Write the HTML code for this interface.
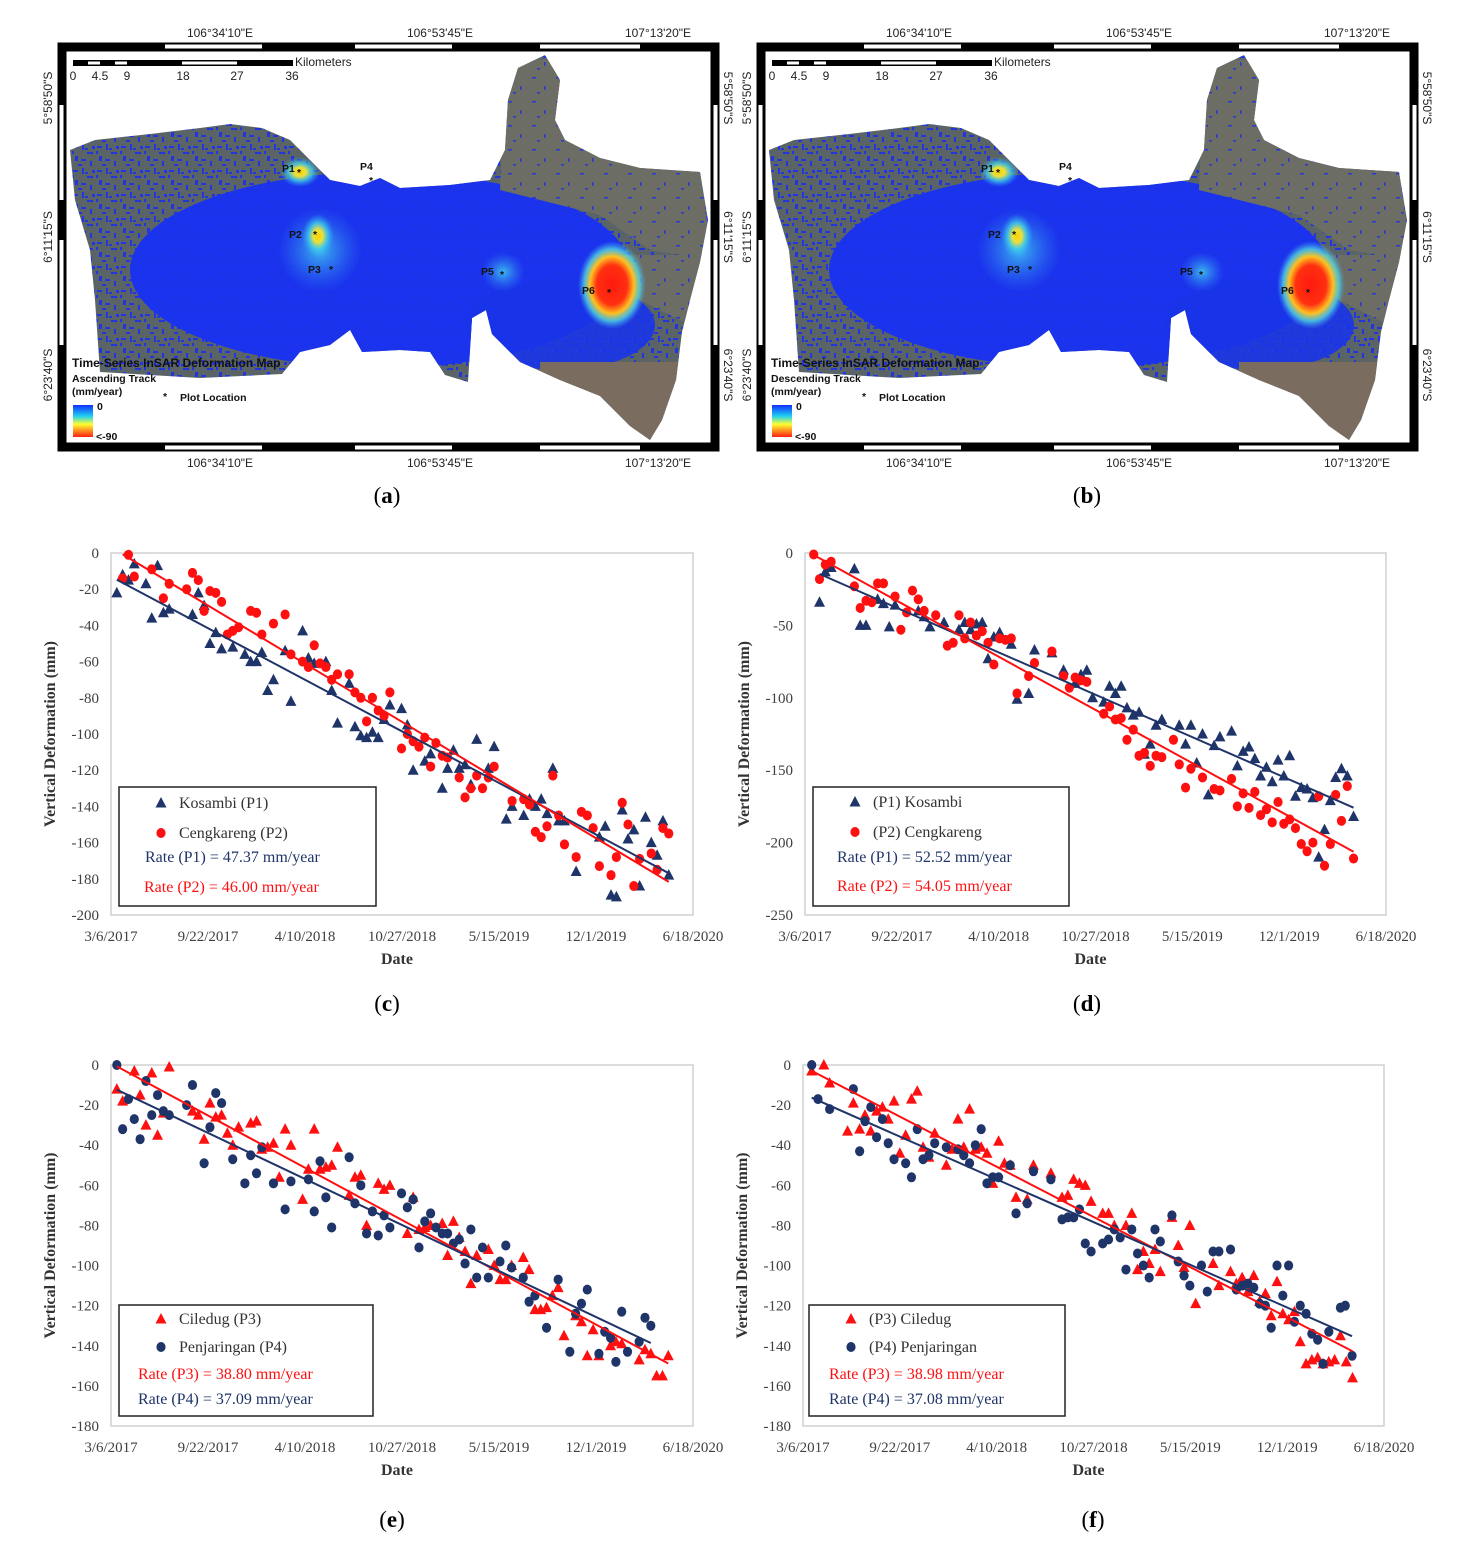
<!DOCTYPE html>
<html><head><meta charset="utf-8">
<style>
html,body{margin:0;padding:0;background:#fff;}
svg{display:block;}
.tk{font-family:"Liberation Serif",serif;font-size:15px;fill:#404040;}
.ttl{font-family:"Liberation Serif",serif;font-size:16px;font-weight:bold;fill:#333;}
.lg{font-family:"Liberation Serif",serif;font-size:16px;fill:#333;}
.pl{font-family:"Liberation Serif",serif;font-size:23px;fill:#000;}
.mp{font-family:"Liberation Sans",sans-serif;font-size:12px;fill:#222;}
.mpb{font-family:"Liberation Sans",sans-serif;font-size:12px;font-weight:bold;fill:#111;}
.mps{font-family:"Liberation Sans",sans-serif;font-size:10.5px;font-weight:bold;fill:#111;}
</style></head><body>
<svg id="fig" width="1468" height="1558" viewBox="0 0 1468 1558" xmlns="http://www.w3.org/2000/svg">
<defs>
<linearGradient id="cbar" x1="0" y1="0" x2="0" y2="1">
<stop offset="0" stop-color="#1030ff"/><stop offset="0.35" stop-color="#20d0f0"/><stop offset="0.6" stop-color="#ffff30"/><stop offset="1" stop-color="#ff2010"/></linearGradient>
<radialGradient id="hotR"><stop offset="0" stop-color="#ff1a10"/><stop offset="0.45" stop-color="#ff3010"/><stop offset="0.65" stop-color="#ffc020"/><stop offset="0.82" stop-color="#50d8e0" stop-opacity="0.8"/><stop offset="1" stop-color="#40a0f0" stop-opacity="0"/></radialGradient>
<radialGradient id="hotY"><stop offset="0" stop-color="#ffd000"/><stop offset="0.3" stop-color="#e8e040"/><stop offset="0.6" stop-color="#40d0e8" stop-opacity="0.8"/><stop offset="1" stop-color="#30a0f0" stop-opacity="0"/></radialGradient>
<radialGradient id="hotC"><stop offset="0" stop-color="#40c8f0" stop-opacity="0.9"/><stop offset="1" stop-color="#3080f0" stop-opacity="0"/></radialGradient>
<pattern id="spk" width="24" height="24" patternUnits="userSpaceOnUse">
<rect width="24" height="24" fill="#5a6466"/>
<rect x="1" y="2" width="5" height="2" fill="#2236e0"/><rect x="10" y="0" width="2" height="6" fill="#2236e0"/>
<rect x="15" y="8" width="6" height="2" fill="#2236e0"/><rect x="3" y="12" width="3" height="5" fill="#2236e0"/>
<rect x="9" y="15" width="5" height="2" fill="#2236e0"/><rect x="18" y="17" width="2" height="5" fill="#2236e0"/>
<rect x="6" y="20" width="4" height="2" fill="#2236e0"/><rect x="20" y="2" width="3" height="3" fill="#2236e0"/>
<rect x="13" y="4" width="3" height="2" fill="#2236e0"/><rect x="0" y="7" width="2" height="3" fill="#2236e0"/>
</pattern>
<pattern id="spk2" width="24" height="24" patternUnits="userSpaceOnUse">
<rect width="24" height="24" fill="#6c6e66"/>
<rect x="4" y="5" width="4" height="1.5" fill="#2a3ad0"/><rect x="16" y="14" width="1.5" height="4" fill="#2a3ad0"/>
<rect x="9" y="20" width="3" height="1.5" fill="#2a3ad0"/>
</pattern>
</defs>
</svg>
<script>
// ===== chart data (days since 3/6/2017, deformation mm) =====
const xTickLabels = ["3/6/2017","9/22/2017","4/10/2018","10/27/2018","5/15/2019","12/1/2019","6/18/2020"];
const xTickDays = [0,200,400,600,800,1000,1200];
const cYTicks = [0,-20,-40,-60,-80,-100,-120,-140,-160,-180,-200];
const dYTicks = [0,-50,-100,-150,-200,-250];
const efYTicks = [0,-20,-40,-60,-80,-100,-120,-140,-160,-180];

const cP1Days = [12,24,36,48,72,84,96,108,120,168,180,192,204,216,228,251,276,288,300,311,323,335,359,371,395,407,419,443,455,467,491,503,515,527,539,551,563,575,599,611,623,647,659,683,694,706,718,730,742,754,778,790,815,827,851,863,875,887,899,911,923,935,959,1007,1019,1031,1042,1054,1066,1078,1090,1102,1114,1126,1138,1150];
const cP1Vals = [-22,-12,-15,-6,-17,-36,-7,-33,-31,-34,-22,-29,-50,-44,-53,-52,-56,-60,-60,-55,-76,-70,-54,-82,-43,-58,-61,-60,-76,-94,-72,-96,-101,-102,-99,-102,-92,-84,-86,-95,-120,-115,-111,-130,-119,-109,-119,-117,-128,-103,-119,-107,-147,-140,-145,-136,-140,-136,-144,-119,-148,-148,-176,-157,-151,-189,-190,-142,-158,-153,-184,-146,-160,-167,-148,-178];
const cP2Days = [24,36,48,84,108,120,156,168,180,192,204,216,228,240,251,263,288,300,311,335,359,371,395,407,419,431,443,455,467,491,503,515,527,539,551,563,575,599,611,623,635,647,659,670,683,694,718,730,742,754,766,778,790,827,851,863,875,887,899,911,923,935,959,970,982,994,1007,1031,1042,1054,1066,1078,1090,1114,1126,1138,1150];
const cP2Vals = [-14,-1,-13,-9,-25,-17,-20,-11,-15,-32,-21,-22,-27,-45,-43,-41,-32,-33,-45,-39,-34,-56,-60,-63,-51,-61,-63,-70,-67,-67,-77,-80,-93,-80,-87,-90,-77,-108,-100,-104,-107,-102,-118,-105,-112,-113,-124,-135,-130,-123,-130,-124,-118,-137,-136,-139,-154,-157,-151,-123,-145,-161,-168,-143,-145,-152,-173,-178,-168,-138,-150,-184,-169,-166,-175,-152,-155];

const dP1Days = [30,42,54,102,114,126,150,162,174,186,234,246,258,287,318,330,342,354,366,378,390,402,426,438,462,474,510,534,558,570,582,594,617,629,641,653,665,678,690,701,713,725,737,773,786,797,809,821,833,845,857,881,893,905,917,929,941,953,965,977,989,1001,1013,1025,1037,1049,1061,1073,1085,1096,1108,1120,1133];
const dP1Vals = [-34,-13,-10,-11,-50,-50,-32,-35,-51,-36,-40,-44,-51,-48,-53,-48,-53,-49,-48,-73,-58,-55,-63,-101,-97,-67,-69,-81,-90,-84,-81,-100,-103,-92,-97,-92,-107,-112,-110,-139,-132,-119,-115,-119,-132,-119,-145,-125,-167,-133,-127,-123,-147,-137,-134,-142,-154,-148,-158,-143,-154,-140,-168,-162,-163,-169,-210,-191,-171,-155,-149,-154,-182];
const dP2Days = [18,30,42,54,102,114,126,138,150,162,186,198,210,222,234,246,270,294,306,318,330,342,354,366,378,390,402,414,426,438,462,474,510,534,546,558,570,582,617,629,641,653,665,678,690,701,713,725,737,761,773,786,797,821,845,857,881,893,905,917,929,941,953,965,977,989,1001,1013,1025,1037,1049,1061,1073,1085,1096,1108,1120,1133];
const dP2Vals = [-1,-18,-8,-6,-23,-38,-33,-34,-21,-21,-30,-53,-41,-26,-32,-40,-43,-64,-62,-43,-59,-48,-57,-54,-62,-77,-59,-60,-59,-97,-85,-76,-68,-85,-93,-86,-88,-89,-111,-106,-115,-114,-129,-122,-140,-138,-147,-140,-141,-129,-146,-162,-149,-155,-163,-164,-156,-175,-166,-176,-165,-181,-177,-186,-172,-187,-184,-190,-201,-206,-200,-168,-216,-201,-167,-185,-161,-211];

const eP3Days = [12,24,48,60,72,84,96,108,120,168,180,192,204,216,228,240,251,263,288,300,311,323,335,347,359,371,395,407,419,431,443,455,467,491,503,515,527,551,563,575,611,623,635,647,659,683,694,706,718,730,742,754,778,790,802,814,826,850,862,874,886,898,910,922,934,958,970,982,994,1006,1030,1041,1053,1089,1101,1113,1125,1137,1149];
const eP3Vals = [-12,-18,-3,-15,-30,-4,-35,-24,-1,-23,-25,-37,-19,-26,-25,-34,-40,-31,-29,-28,-42,-41,-39,-56,-32,-40,-67,-52,-32,-52,-51,-50,-41,-65,-56,-55,-80,-59,-62,-60,-84,-66,-82,-81,-80,-79,-95,-78,-86,-93,-109,-95,-92,-100,-107,-107,-100,-96,-102,-122,-122,-121,-115,-111,-135,-125,-128,-145,-132,-145,-140,-138,-139,-147,-142,-144,-155,-155,-145];
const eP4Days = [12,24,36,48,60,72,84,96,108,120,156,168,192,204,216,228,251,276,288,300,311,335,359,371,407,419,431,443,455,491,503,515,527,539,551,563,575,599,611,623,635,647,659,670,683,694,706,718,730,742,754,766,778,802,814,826,850,862,874,898,922,946,958,970,982,1006,1018,1030,1041,1053,1065,1089,1101,1113];
const eP4Vals = [0,-32,-17,-27,-37,-8,-25,-15,-23,-25,-20,-10,-49,-31,-14,-19,-47,-59,-45,-54,-41,-59,-72,-58,-57,-73,-48,-66,-81,-46,-69,-60,-84,-73,-85,-75,-81,-64,-71,-67,-91,-78,-74,-81,-84,-84,-89,-87,-99,-82,-106,-91,-106,-98,-90,-101,-106,-118,-115,-131,-107,-143,-124,-119,-112,-144,-133,-136,-148,-123,-143,-138,-126,-130];

const fP3Days = [18,43,55,92,104,117,128,140,152,164,176,188,200,212,224,236,248,260,272,296,308,320,332,344,356,368,380,392,404,416,428,440,463,476,512,535,547,559,571,583,595,619,631,643,667,679,691,703,715,727,738,762,775,787,799,811,847,859,883,895,907,919,931,943,955,967,979,991,1003,1015,1027,1039,1051,1063,1074,1086,1098,1110,1122,1135];
const fP3Vals = [-3,0,-9,-33,-19,-32,-25,-33,-23,-21,-27,-18,-44,-35,-17,-13,-41,-46,-34,-50,-42,-27,-41,-22,-42,-41,-44,-59,-38,-49,-50,-66,-67,-50,-54,-66,-65,-57,-59,-60,-68,-74,-74,-80,-80,-74,-102,-93,-99,-92,-103,-76,-90,-101,-80,-119,-99,-110,-103,-109,-106,-113,-105,-118,-114,-125,-108,-124,-127,-123,-138,-149,-147,-146,-149,-148,-147,-135,-148,-156];
const fP4Days = [18,31,55,104,117,128,140,152,164,176,188,212,224,236,248,260,272,296,320,332,344,356,368,380,392,404,428,440,463,476,512,535,547,559,571,583,595,619,631,643,655,667,679,691,703,715,727,738,762,775,787,799,823,835,847,859,883,895,907,919,931,943,955,967,979,991,1003,1015,1027,1039,1051,1063,1074,1086,1110,1120,1134];
const fP4Vals = [0,-17,-22,-12,-43,-28,-21,-36,-27,-39,-47,-49,-56,-32,-47,-45,-39,-41,-42,-45,-49,-40,-32,-59,-56,-56,-50,-74,-69,-53,-57,-77,-76,-76,-72,-89,-93,-89,-87,-82,-86,-102,-82,-94,-100,-106,-82,-88,-75,-98,-105,-110,-100,-113,-93,-93,-92,-112,-110,-109,-111,-119,-120,-131,-100,-115,-100,-128,-120,-124,-134,-137,-149,-133,-121,-120,-145];

const NAVY = "#1f3468", RED = "#ff1010";
const svg = document.getElementById('fig');
const NS = "http://www.w3.org/2000/svg";
function mk(tag, attrs, parent, text){
  const e = document.createElementNS(NS, tag);
  for (const k in attrs) e.setAttribute(k, attrs[k]);
  if (text !== undefined) e.textContent = text;
  (parent || svg).appendChild(e);
  return e;
}

// ===== maps =====
const land = [[70,150],[95,140],[150,134],[200,128],[230,124],[262,128],[290,140],[310,160],[330,180],[360,186],[380,178],[400,188],[450,185],[490,180],[505,150],[508,100],[518,68],[545,55],[560,80],[555,120],[565,140],[600,158],[640,168],[700,172],[708,220],[700,262],[690,300],[682,332],[676,380],[662,420],[650,440],[630,426],[600,396],[560,380],[520,362],[492,334],[486,310],[472,318],[468,382],[445,375],[430,352],[400,350],[362,352],[350,330],[330,345],[300,352],[282,374],[200,378],[100,372],[95,300],[90,250],[75,200]];
function drawMap(ox, track, label){
  const g = mk('g', {});
  
  
  const cid = 'clip' + label;
  const cp = mk('clipPath', {id: cid}, g);
  const pts = land.map(p => (p[0] + ox) + ',' + p[1]).join(' ');
  mk('polygon', {points: pts}, cp);
  mk('polygon', {points: pts, fill: 'url(#spk)'}, g);
  const inner = mk('g', {'clip-path': 'url(#' + cid + ')'}, g);
  mk('ellipse', {cx: 380 + ox, cy: 270, rx: 250, ry: 98, fill: '#1832f2', opacity: 0.95}, inner);
  mk('ellipse', {cx: 560 + ox, cy: 325, rx: 95, ry: 45, fill: '#1a34e8', opacity: 0.9}, inner);
  mk('polygon', {points: [[505,60],[560,60],[600,158],[700,170],[712,260],[650,250],[600,215],[540,200],[500,190]].map(p=>(p[0]+ox)+','+p[1]).join(' '), fill: 'url(#spk2)'}, inner);
  mk('polygon', {points: [[600,255],[712,255],[700,330],[640,300]].map(p=>(p[0]+ox)+','+p[1]).join(' '), fill: 'url(#spk2)'}, inner);
  mk('rect', {x: 540 + ox, y: 362, width: 140, height: 90, fill: '#7a6d5f'}, inner);
  mk('ellipse', {cx: 320 + ox, cy: 250, rx: 42, ry: 42, fill: 'url(#hotC)'}, inner);
  mk('ellipse', {cx: 503 + ox, cy: 272, rx: 22, ry: 20, fill: 'url(#hotC)'}, inner);
  mk('ellipse', {cx: 318 + ox, cy: 236, rx: 16, ry: 22, fill: 'url(#hotY)'}, inner);
  mk('ellipse', {cx: 300 + ox, cy: 172, rx: 20, ry: 15, fill: 'url(#hotY)'}, inner);
  mk('ellipse', {cx: 612 + ox, cy: 285, rx: 34, ry: 44, fill: 'url(#hotR)'}, inner);
  const pl = [['P1',282,172,300,172],['P4',360,170,372,180],['P2',289,238,316,234],['P3',308,273,332,269],['P5',481,275,503,274],['P6',582,294,610,292]];
  pl.forEach(p => {
    mk('text', {x: p[1] + ox, y: p[2], class: 'mps'}, g, p[0]);
    mk('text', {x: p[3] + ox - 3, y: p[4] + 4, class: 'mps'}, g, '*');
  });
  // frame
  const fr = mk('g', {});
  
  
  mk('rect', {x: 62 + ox, y: 47, width: 653, height: 400, fill: 'none', stroke: '#000', 'stroke-width': 9}, fr);
  [[165,262],[355,452],[540,640]].forEach(s => mk('rect', {x: s[0] + ox, y: 44.5, width: s[1]-s[0], height: 4, fill: '#fff'}, fr));
  [[165,262],[355,452],[540,640]].forEach(s => mk('rect', {x: s[0] + ox, y: 445.5, width: s[1]-s[0], height: 4, fill: '#fff'}, fr));
  [[105,200],[240,345]].forEach(s => { mk('rect', {x: 59.5 + ox, y: s[0], width: 4, height: s[1]-s[0], fill: '#fff'}, fr); mk('rect', {x: 713.5 + ox, y: s[0], width: 4, height: s[1]-s[0], fill: '#fff'}, fr); });
  // coordinate labels
  [['106°34\'10"E',220],['106°53\'45"E',440],['107°13\'20"E',658]].forEach(c => {
    mk('text', {x: c[1] + ox, y: 37, class: 'mp', 'text-anchor': 'middle'}, fr, c[0]);
    mk('text', {x: c[1] + ox, y: 467, class: 'mp', 'text-anchor': 'middle'}, fr, c[0]);
  });
  [['5°58\'50"S',98],['6°11\'15"S',237],['6°23\'40"S',375]].forEach(c => {
    mk('text', {x: 0, y: 0, class: 'mp', 'text-anchor': 'middle', transform: 'translate(' + (52 + ox) + ',' + c[1] + ') rotate(-90)'}, fr, c[0]);
    mk('text', {x: 0, y: 0, class: 'mp', 'text-anchor': 'middle', transform: 'translate(' + (724 + ox) + ',' + c[1] + ') rotate(90)'}, fr, c[0]);
  });
  // scale bar
  const sb = mk('g', {});
  
  
  mk('rect', {x: 73 + ox, y: 60, width: 220, height: 6, fill: '#000'}, sb);
  [[88,100],[115,127],[182,237]].forEach(s => mk('rect', {x: s[0] + ox, y: 61.5, width: s[1]-s[0], height: 3, fill: '#fff'}, sb));
  mk('text', {x: 295 + ox, y: 66, class: 'mp', 'font-size': '11'}, sb, 'Kilometers');
  [['0',73],['4.5',100],['9',127],['18',183],['27',237],['36',292]].forEach(s => mk('text', {x: s[1] + ox, y: 80, class: 'mp', 'font-size': '11', 'text-anchor': 'middle'}, sb, s[0]));
  // legend
  const lg = mk('g', {});
  
  
  mk('text', {x: 72 + ox, y: 367, class: 'mpb'}, lg, 'Time-Series InSAR Deformation Map');
  mk('text', {x: 72 + ox, y: 382, class: 'mps'}, lg, track);
  mk('text', {x: 72 + ox, y: 395, class: 'mps'}, lg, '(mm/year)');
  mk('rect', {x: 73 + ox, y: 405, width: 20, height: 32, fill: 'url(#cbar)'}, lg);
  mk('text', {x: 97 + ox, y: 410, class: 'mps'}, lg, '0');
  mk('text', {x: 96 + ox, y: 440, class: 'mps'}, lg, '<-90');
  mk('text', {x: 163 + ox, y: 400, class: 'mps'}, lg, '*');
  mk('text', {x: 180 + ox, y: 401, class: 'mps'}, lg, 'Plot Location');
}
drawMap(0, 'Ascending Track', 'ascending');
drawMap(699, 'Descending Track', 'descending');

// ===== scatter charts =====
function fit(xs, ys){
  const n = xs.length; let sx=0,sy=0,sxx=0,sxy=0;
  for (let i=0;i<n;i++){sx+=xs[i];sy+=ys[i];sxx+=xs[i]*xs[i];sxy+=xs[i]*ys[i];}
  const b=(n*sxy-sx*sy)/(n*sxx-sx*sx); const a=(sy-b*sx)/n; return [a,b];
}
function chart(cfg){
  const {L,R,T,B,ymin,yticks,name,series,legend} = cfg;
  const g = mk('g', {});
  
  
  const X = d => L + (d - xTickDays[0]) / (xTickDays[xTickDays.length-1] - xTickDays[0]) * (R - L);
  const Y = v => T + (0 - v) / (0 - ymin) * (B - T);
  mk('rect', {x: L, y: T, width: R-L, height: B-T, fill: '#fff', stroke: '#d0d0d0', 'stroke-width': 1.5}, g);
  yticks.forEach(v => {
    const t = mk('text', {x: L - 12, y: Y(v) + 5, class: 'tk', 'text-anchor': 'end'}, g, String(v));
    
    
  });
  xTickDays.forEach((d,i) => {
    const t = mk('text', {x: X(d), y: B + 26, class: 'tk', 'text-anchor': 'middle'}, g, xTickLabels[i]);
    
    
  });
  const xt = mk('text', {x: (L+R)/2 - 5, y: B + 49, class: 'ttl', 'text-anchor': 'middle'}, g, 'Date');
  
  
  const yt = mk('text', {x: 0, y: 0, class: 'ttl', 'text-anchor': 'middle', transform: 'translate(' + (L - 56) + ',' + ((T+B)/2) + ') rotate(-90)'}, g, 'Vertical Deformation (mm)');
  
  
  series.forEach(s => {
    const sg = mk('g', {}, g);
    
    
    s.days.forEach((d,i) => {
      const x = X(d), y = Y(s.vals[i]);
      let m;
      if (s.shape === 'tri') m = mk('polygon', {points: (x) + ',' + (y-6) + ' ' + (x-5.5) + ',' + (y+4.5) + ' ' + (x+5.5) + ',' + (y+4.5), fill: s.color}, sg);
      else m = mk('ellipse', {cx: x, cy: y, rx: 4.6, ry: 5, fill: s.color}, sg);
      
      
    });
  });
  series.forEach(s => {
    const [a,b] = fit(s.days, s.vals);
    const d0 = Math.min(...s.days), d1 = Math.max(...s.days);
    const ln = mk('line', {x1: X(d0), y1: Y(a+b*d0), x2: X(d1), y2: Y(a+b*d1), stroke: s.color, 'stroke-width': 2}, g);
    
    
  });
  const lb = mk('g', {}, g);
  
  
  const [lx, ly, lw, lh] = legend.box;
  mk('rect', {x: lx, y: ly, width: lw, height: lh, fill: '#fff', stroke: '#222', 'stroke-width': 1.5}, lb);
  legend.rows.forEach(r => {
    if (r.shape === 'tri') mk('polygon', {points: (lx+42) + ',' + (r.y-11) + ' ' + (lx+36.5) + ',' + (r.y-0.5) + ' ' + (lx+47.5) + ',' + (r.y-0.5), fill: r.color}, lb);
    else if (r.shape === 'dot') mk('ellipse', {cx: lx+42, cy: r.y-5, rx: 4.6, ry: 5, fill: r.color}, lb);
    const t = mk('text', {x: r.shape ? lx + 60 : lx + r.x, y: r.y, class: 'lg', style: r.shape ? '' : 'fill:' + r.color}, lb, r.text);
    
    
  });
}
chart({L:111,R:693,T:553,B:915,ymin:-200,yticks:cYTicks,name:'chart-c',
  series:[{id:'kosambi-p1',days:cP1Days,vals:cP1Vals,color:NAVY,shape:'tri'},{id:'cengkareng-p2',days:cP2Days,vals:cP2Vals,color:RED,shape:'dot'}],
  legend:{box:[119,787,257,119],rows:[{shape:'tri',color:NAVY,y:808,text:'Kosambi (P1)'},{shape:'dot',color:RED,y:838,text:'Cengkareng (P2)'},{x:26,color:NAVY,y:862,text:'Rate (P1) = 47.37 mm/year'},{x:25,color:RED,y:892,text:'Rate (P2) = 46.00 mm/year'}]}});
chart({L:805,R:1386,T:553,B:915,ymin:-250,yticks:dYTicks,name:'chart-d',
  series:[{id:'kosambi-p1',days:dP1Days,vals:dP1Vals,color:NAVY,shape:'tri'},{id:'cengkareng-p2',days:dP2Days,vals:dP2Vals,color:RED,shape:'dot'}],
  legend:{box:[813,787,256,119],rows:[{shape:'tri',color:NAVY,y:807,text:'(P1) Kosambi'},{shape:'dot',color:RED,y:837,text:'(P2) Cengkareng'},{x:24,color:NAVY,y:862,text:'Rate (P1) = 52.52 mm/year'},{x:24,color:RED,y:891,text:'Rate (P2) = 54.05 mm/year'}]}});
chart({L:111,R:693,T:1065,B:1426,ymin:-180,yticks:efYTicks,name:'chart-e',
  series:[{id:'ciledug-p3',days:eP3Days,vals:eP3Vals,color:RED,shape:'tri'},{id:'penjaringan-p4',days:eP4Days,vals:eP4Vals,color:NAVY,shape:'dot'}],
  legend:{box:[119,1305,254,111],rows:[{shape:'tri',color:RED,y:1324,text:'Ciledug (P3)'},{shape:'dot',color:NAVY,y:1352,text:'Penjaringan (P4)'},{x:19,color:RED,y:1379,text:'Rate (P3) = 38.80 mm/year'},{x:19,color:NAVY,y:1404,text:'Rate (P4) = 37.09 mm/year'}]}});
chart({L:803,R:1384,T:1065,B:1426,ymin:-180,yticks:efYTicks,name:'chart-f',
  series:[{id:'ciledug-p3',days:fP3Days,vals:fP3Vals,color:RED,shape:'tri'},{id:'penjaringan-p4',days:fP4Days,vals:fP4Vals,color:NAVY,shape:'dot'}],
  legend:{box:[809,1305,256,111],rows:[{shape:'tri',color:RED,y:1324,text:'(P3) Ciledug'},{shape:'dot',color:NAVY,y:1352,text:'(P4) Penjaringan'},{x:20,color:RED,y:1379,text:'Rate (P3) = 38.98 mm/year'},{x:20,color:NAVY,y:1404,text:'Rate (P4) = 37.08 mm/year'}]}});

// panel labels
[['(a)',387,503],['(b)',1087,503],['(c)',387,1011],['(d)',1087,1011],['(e)',392,1527],['(f)',1093,1527]].forEach(p => {
  const t = mk('text', {x: p[1], y: p[2], class: 'pl', 'text-anchor': 'middle'});
  
  
  mk('tspan', {}, t, '(');
  mk('tspan', {'font-weight': 'bold'}, t, p[0][1]);
  mk('tspan', {}, t, ')');
});
</script>
</body></html>
